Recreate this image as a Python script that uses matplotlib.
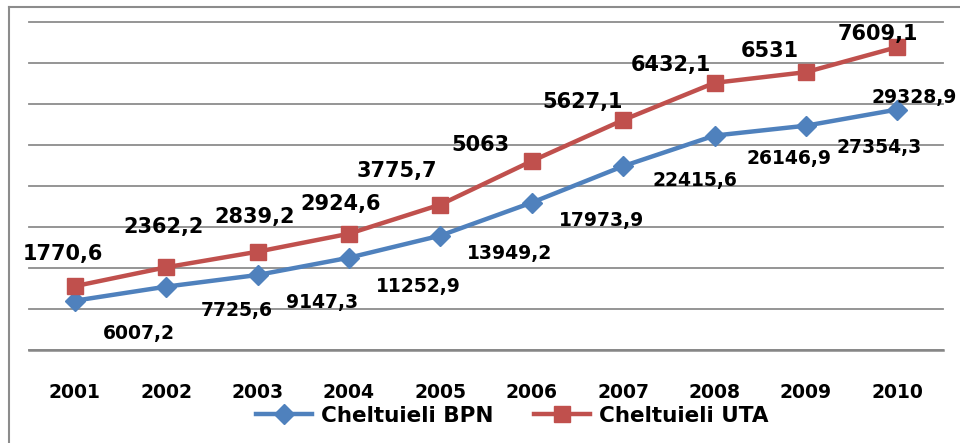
import matplotlib
matplotlib.use("Agg")
import matplotlib.pyplot as plt
from matplotlib.lines import Line2D
import numpy as np

years = ["2001", "2002", "2003", "2004", "2005", "2006", "2007", "2008", "2009", "2010"]
bpn = [6007.2, 7725.6, 9147.3, 11252.9, 13949.2, 17973.9, 22415.6, 26146.9, 27354.3, 29328.9]
uta = [1770.6, 2362.2, 2839.2, 2924.6, 3775.7, 5063, 5627.1, 6432.1, 6531, 7609.1]
bpn_labels = ["6007,2", "7725,6", "9147,3", "11252,9", "13949,2", "17973,9", "22415,6", "26146,9", "27354,3", "29328,9"]
uta_labels = ["1770,6", "2362,2", "2839,2", "2924,6", "3775,7", "5063", "5627,1", "6432,1", "6531", "7609,1"]

# label offsets in pixels (layout only)
uta_off = [(-12, 32), (-3, 40), (-3, 35), (-8, 30), (-43, 34), (-51, 16), (-40, 18), (-44, 18), (-36, 21), (-19, 13)]
bpn_off = [(64, -33), (71, -24), (65, -28), (69, -29), (69, -18), (70, -18), (72, -14), (74, -23), (73, -22), (17, 12)]

BLUE = "#4F81BD"
RED = "#C0504D"

W, H = 960, 443
fig = plt.figure(figsize=(W / 100, H / 100), dpi=100)
ax = fig.add_axes([29 / W, 1 - 350 / H, (943 - 29) / W, (350 - 22) / H])

x = np.arange(len(years))
stack = np.array(bpn) + np.array(uta)

ax.plot(x, bpn, color=BLUE, lw=3.2, marker="D", ms=10, mfc=BLUE, mec=BLUE, zorder=3,
        label="Cheltuieli BPN")
ax.plot(x, stack, color=RED, lw=3.2, marker="s", ms=11, mfc=RED, mec=RED, zorder=3,
        label="Cheltuieli UTA")

for i in range(len(years)):
    ax.annotate(uta_labels[i], (x[i], stack[i]), xytext=uta_off[i], textcoords="offset pixels",
                ha="center", va="center", fontsize=15, fontweight="bold", color="black", zorder=4)
    ax.annotate(bpn_labels[i], (x[i], bpn[i]), xytext=bpn_off[i], textcoords="offset pixels",
                ha="center", va="center", fontsize=13.5, fontweight="bold", color="black", zorder=4)

ax.set_xlim(-0.5, len(years) - 0.5)
ax.set_ylim(0, 40000)
ax.set_yticks(np.arange(0, 40001, 5000))
ax.yaxis.grid(True, color="#8c8c8c", lw=1.3, clip_on=False)
ax.set_axisbelow(True)
ax.tick_params(axis="y", left=False, labelleft=False)
ax.set_xticks(x)
ax.set_xticklabels(years, fontsize=13.5, fontweight="bold")
ax.tick_params(axis="x", length=0, pad=24)
for s in ["left", "right", "top"]:
    ax.spines[s].set_visible(False)
ax.spines["bottom"].set_color("#868686")
ax.spines["bottom"].set_linewidth(1.8)

leg = fig.legend(loc="center", bbox_to_anchor=(512 / W, 1 - 416 / H), ncol=2, frameon=False,
                 prop={"size": 15.5, "weight": "bold"}, handlelength=2.6, columnspacing=1.9,
                 handletextpad=0.4, borderpad=0.1)

# outer chart frame
fig.add_artist(Line2D([9 / W, 9 / W], [0, 1 - 7 / H], color="#8c8c8c", lw=1.5, transform=fig.transFigure))
fig.add_artist(Line2D([9 / W, 1], [1 - 7 / H, 1 - 7 / H], color="#8c8c8c", lw=1.5, transform=fig.transFigure))

fig.savefig("out.png", dpi=100)
